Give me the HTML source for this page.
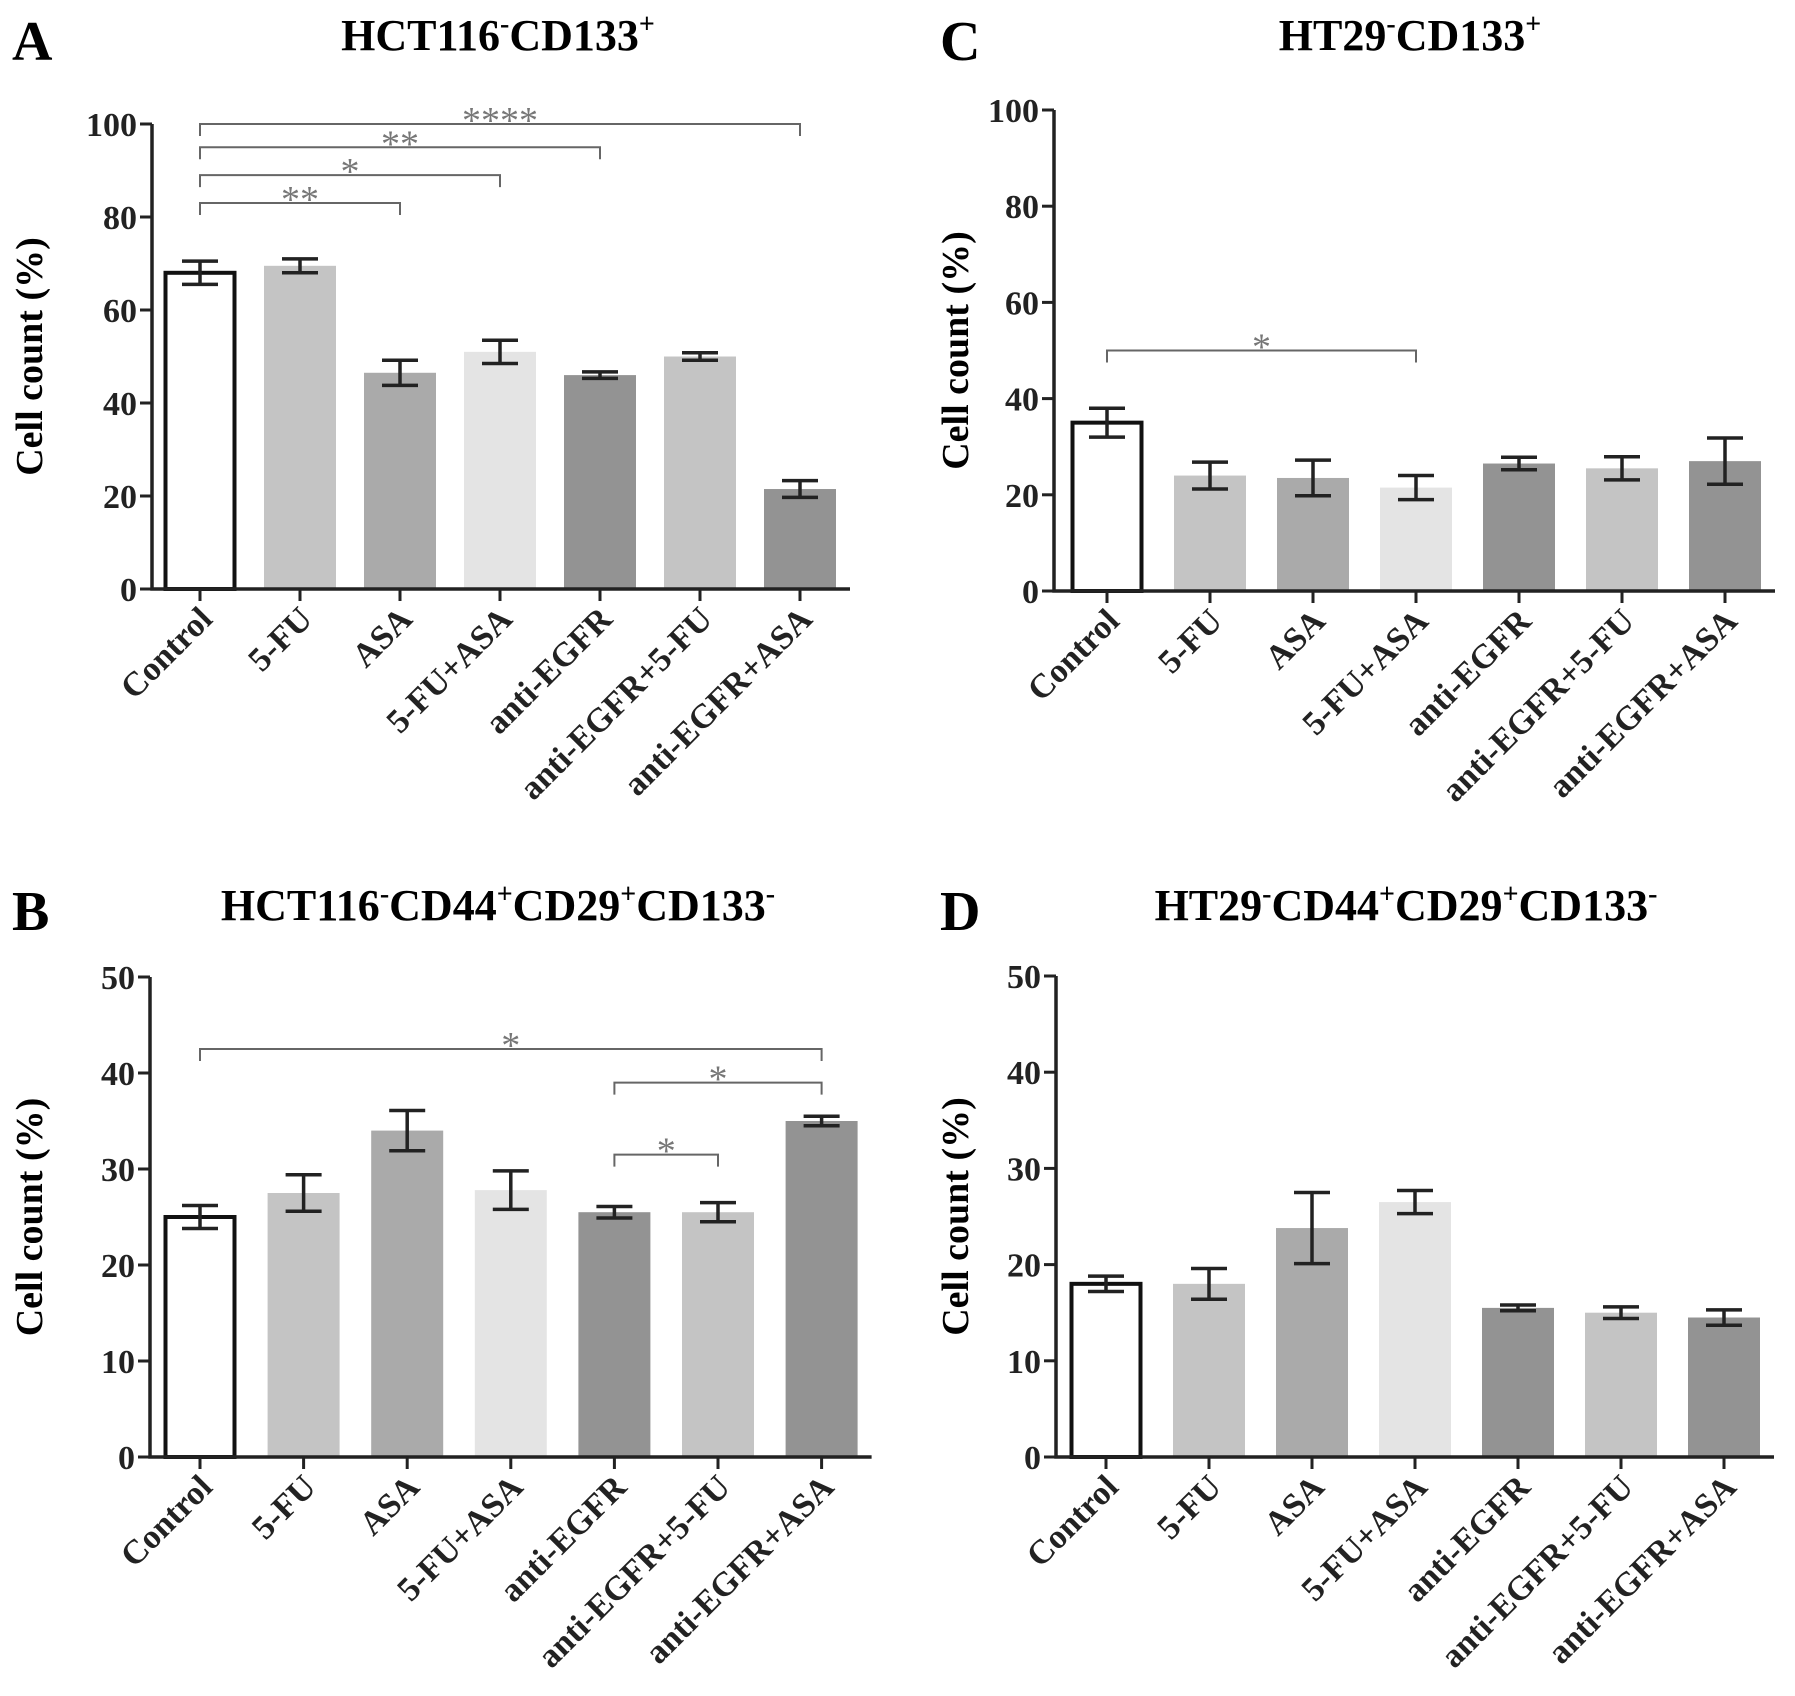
<!DOCTYPE html>
<html><head><meta charset="utf-8"><style>
html,body{margin:0;padding:0;background:#fff;}
svg{display:block;font-family:"Liberation Serif",serif;}
</style></head><body>
<svg id="fig" width="1795" height="1696" viewBox="0 0 1795 1696"></svg>
<script>
const categories = ["Control","5-FU","ASA","5-FU+ASA","anti-EGFR","anti-EGFR+5-FU","anti-EGFR+ASA"];
const valuesA = [68, 69.5, 46.5, 51, 46, 50, 21.5];
const errorsA = [2.5, 1.5, 2.7, 2.5, 0.7, 0.8, 1.8];
const valuesB = [25, 27.5, 34, 27.8, 25.5, 25.5, 35];
const errorsB = [1.2, 1.9, 2.1, 2.0, 0.6, 1.0, 0.5];
const valuesC = [35, 24, 23.5, 21.5, 26.5, 25.5, 27];
const errorsC = [3.0, 2.8, 3.7, 2.5, 1.3, 2.4, 4.8];
const valuesD = [18, 18, 23.8, 26.5, 15.5, 15, 14.5];
const errorsD = [0.8, 1.6, 3.7, 1.2, 0.3, 0.6, 0.8];
const ticks100 = [0,20,40,60,80,100];
const ticks50 = [0,10,20,30,40,50];
const sigA = [[0,2,83,"**"],[0,3,89,"*"],[0,4,95,"**"],[0,6,100,"****"]];
const sigB = [[0,6,42.5,"*"],[4,6,39,"*"],[4,5,31.5,"*"]];
const sigC = [[0,3,50,"*"]];
const sigD = [];
const fills = ["#ffffff","#c4c4c4","#aaaaaa","#e4e4e4","#939393","#c4c4c4","#939393"];

const NS="http://www.w3.org/2000/svg";
const svg=document.getElementById('fig');
function el(tag,attrs,parent,text){const e=document.createElementNS(NS,tag);for(const k in attrs)e.setAttribute(k,attrs[k]);if(text!==undefined)e.textContent=text;(parent||svg).appendChild(e);return e;}

function panel(cfg){
  const g=el('g',{});
  
  
  const yS=v=>cfg.y0-(v/cfg.ymax)*(cfg.y0-cfg.ytop);
  const xS=i=>cfg.c0+i*cfg.step;
  const L=el('text',{x:cfg.lx,y:cfg.ly,'font-size':56,'font-weight':'bold'},g,cfg.letter);
  
  
  const T=el('text',{x:cfg.tx,y:cfg.ty,'font-size':44,'font-weight':'bold','text-anchor':'middle'},g);
  
  
  let prevSup=false;
  cfg.title.forEach(p=>{
    const sup=!!p[1];
    const dy=sup?(prevSup?0:-17):(prevSup?17:0);
    el('tspan',sup?{'font-size':28,dy:dy}:{dy:dy},T,p[0]);
    prevSup=sup;
  });
  const yt=el('text',{x:0,y:0,'font-size':38,'font-weight':'bold','text-anchor':'middle',transform:`translate(${cfg.ytx},${(cfg.y0+cfg.ytop)/2}) rotate(-90)`},g,'Cell count (%)');
  
  
  cfg.vals.forEach((v,i)=>{
    const cx=xS(i), w=72;
    let r;
    if(i===0){r=el('rect',{x:cx-w/2+1.5,y:yS(v),width:w-3,height:cfg.y0-yS(v),fill:'#fff',stroke:'#111','stroke-width':4},g);}
    else{r=el('rect',{x:cx-w/2,y:yS(v),width:w,height:cfg.y0-yS(v),fill:fills[i]},g);}
    
    
    const e=cfg.errs[i],hi=yS(v+e),lo=yS(v-e);
    const eb=el('path',{d:`M${cx},${hi}V${lo}M${cx-18},${hi}H${cx+18}M${cx-18},${lo}H${cx+18}`,stroke:'#222','stroke-width':3.5,fill:'none'},g);
    
    
  });
  const xEnd=xS(6)+50;
  const ax=el('path',{d:`M${cfg.ax},${cfg.ytop}V${cfg.y0}H${xEnd}`,stroke:'#222','stroke-width':3.5,fill:'none'},g);
  
  
  cfg.ticks.forEach(t=>{
    const y=yS(t);
    el('path',{d:`M${cfg.ax-12},${y}H${cfg.ax}`,stroke:'#222','stroke-width':3},g);
    const tl=el('text',{x:cfg.ax-15,y:y+12,'font-size':34,'font-weight':'bold','text-anchor':'end',fill:'#222'},g,t);
    
    
  });
  categories.forEach((c,i)=>{
    const x=xS(i);
    el('path',{d:`M${x},${cfg.y0}V${cfg.y0+12}`,stroke:'#222','stroke-width':3},g);
    const xl=el('text',{x:0,y:0,'font-size':34,'font-weight':'bold','text-anchor':'end',fill:'#222',transform:`translate(${x+14},${cfg.y0+32}) rotate(-45)`},g,c);
    
    
  });
  cfg.sig.forEach(s=>{
    const x1=xS(s[0]),x2=xS(s[1]),y=yS(s[2]);
    const br=el('path',{d:`M${x1},${y+12}V${y}H${x2}V${y+12}`,stroke:'#666','stroke-width':2,fill:'none'},g);
    
    
    const st=el('text',{x:(x1+x2)/2,y:y+9,'font-size':38,'text-anchor':'middle',fill:'#777'},g,s[3]);
    
    
  });
}

panel({letter:'A',lx:12,ly:60,tx:498,ty:50,title:[['HCT116'],['-',1],['CD133'],['+',1]],
  vals:valuesA,errs:errorsA,ticks:ticks100,ymax:100,y0:589,ytop:124,ax:152,c0:200,step:100,ytx:42,sig:sigA});
panel({letter:'C',lx:940,ly:60,tx:1410,ty:50,title:[['HT29'],['-',1],['CD133'],['+',1]],
  vals:valuesC,errs:errorsC,ticks:ticks100,ymax:100,y0:591,ytop:110,ax:1054,c0:1107,step:103,ytx:968,sig:sigC});
panel({letter:'B',lx:12,ly:930,tx:498,ty:920,title:[['HCT116'],['-',1],['CD44'],['+',1],['CD29'],['+',1],['CD133'],['-',1]],
  vals:valuesB,errs:errorsB,ticks:ticks50,ymax:50,y0:1457,ytop:977,ax:150,c0:200,step:103.6,ytx:42,sig:sigB});
panel({letter:'D',lx:940,ly:930,tx:1406,ty:920,title:[['HT29'],['-',1],['CD44'],['+',1],['CD29'],['+',1],['CD133'],['-',1]],
  vals:valuesD,errs:errorsD,ticks:ticks50,ymax:50,y0:1457,ytop:976,ax:1056,c0:1106,step:103,ytx:968,sig:sigD});
</script>
</body></html>
